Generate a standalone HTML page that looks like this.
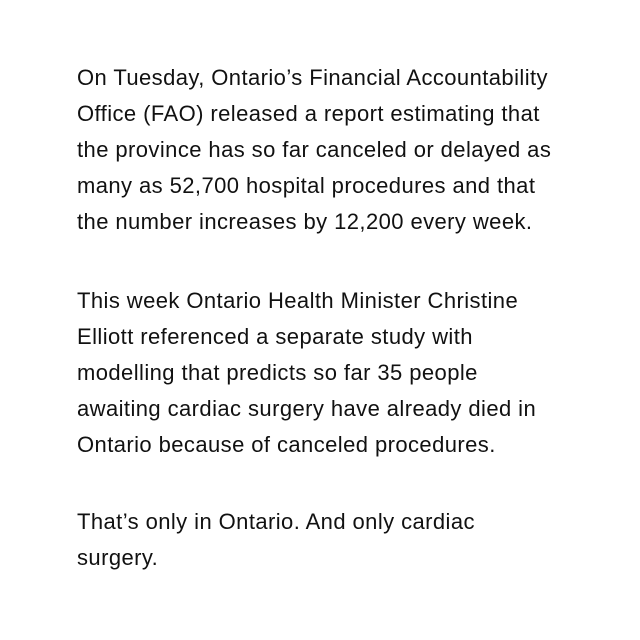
<!DOCTYPE html>
<html>
<head>
<meta charset="utf-8">
<style>
html,body{margin:0;padding:0;background:#fff;}
body{width:640px;height:640px;position:relative;overflow:hidden;}
.l{position:absolute;left:77px;font-family:"Liberation Sans",sans-serif;font-size:22px;line-height:36px;height:36px;color:#111;white-space:nowrap;letter-spacing:0.42px;}
</style>
</head>
<body>
<div>
<div class="l" style="top:60px">On Tuesday, Ontario’s Financial Accountability</div>
<div class="l" style="top:96px">Office (FAO) released a report estimating that</div>
<div class="l" style="top:132px">the province has so far canceled or delayed as</div>
<div class="l" style="top:168px">many as 52,700 hospital procedures and that</div>
<div class="l" style="top:204px">the number increases by 12,200 every week.</div>
</div>
<div>
<div class="l" style="top:283px">This week Ontario Health Minister Christine</div>
<div class="l" style="top:319px">Elliott referenced a separate study with</div>
<div class="l" style="top:355px">modelling that predicts so far 35 people</div>
<div class="l" style="top:391px">awaiting cardiac surgery have already died in</div>
<div class="l" style="top:427px">Ontario because of canceled procedures.</div>
</div>
<div>
<div class="l" style="top:504px">That’s only in Ontario. And only cardiac</div>
<div class="l" style="top:540px">surgery.</div>
</div>
</body>
</html>
